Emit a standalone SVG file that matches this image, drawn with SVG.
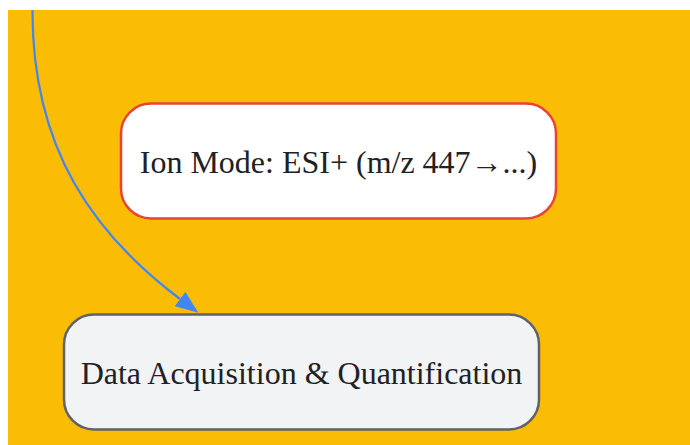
<svg xmlns="http://www.w3.org/2000/svg" width="690" height="445" viewBox="0 0 690 445">
  <defs>
    <style>
      .lbl { font-family: "Liberation Serif", "Times New Roman", serif; font-size: 32px; fill: #202124; text-anchor: middle; }
      .edge { fill: none; stroke: #4285F4; stroke-width: 2.2; }
    </style>
    <marker id="arrow" markerUnits="userSpaceOnUse" markerWidth="23" markerHeight="18" refX="0" refY="9" orient="auto" viewBox="0 0 23 18">
      <path d="M0,0 L23,9 L0,18 z" fill="#4285F4"/>
    </marker>
  </defs>
  <rect x="0" y="0" width="690" height="445" fill="#FFFFFF"/>
  <rect x="8" y="10" width="682" height="435" fill="#FABC05"/>
  <g id="connectors">
    <path class="edge" d="M32.5,10 C32,150 95,235 180,299" marker-end="url(#arrow)"/>
  </g>
  <g id="ion-mode">
    <rect x="121" y="103.5" width="435" height="115" rx="30" ry="30" fill="#FFFFFF" stroke="#EA4335" stroke-width="2.5"/>
    <text class="lbl" x="338.5" y="172.5">Ion Mode: ESI+ (m/z 447→...)</text>
  </g>
  <g id="data-acquisition">
    <rect x="64" y="314.5" width="475" height="115" rx="30" ry="30" fill="#F1F3F4" stroke="#5F6368" stroke-width="2.5"/>
    <text class="lbl" x="301.5" y="384">Data Acquisition &amp; Quantification</text>
  </g>
</svg>
